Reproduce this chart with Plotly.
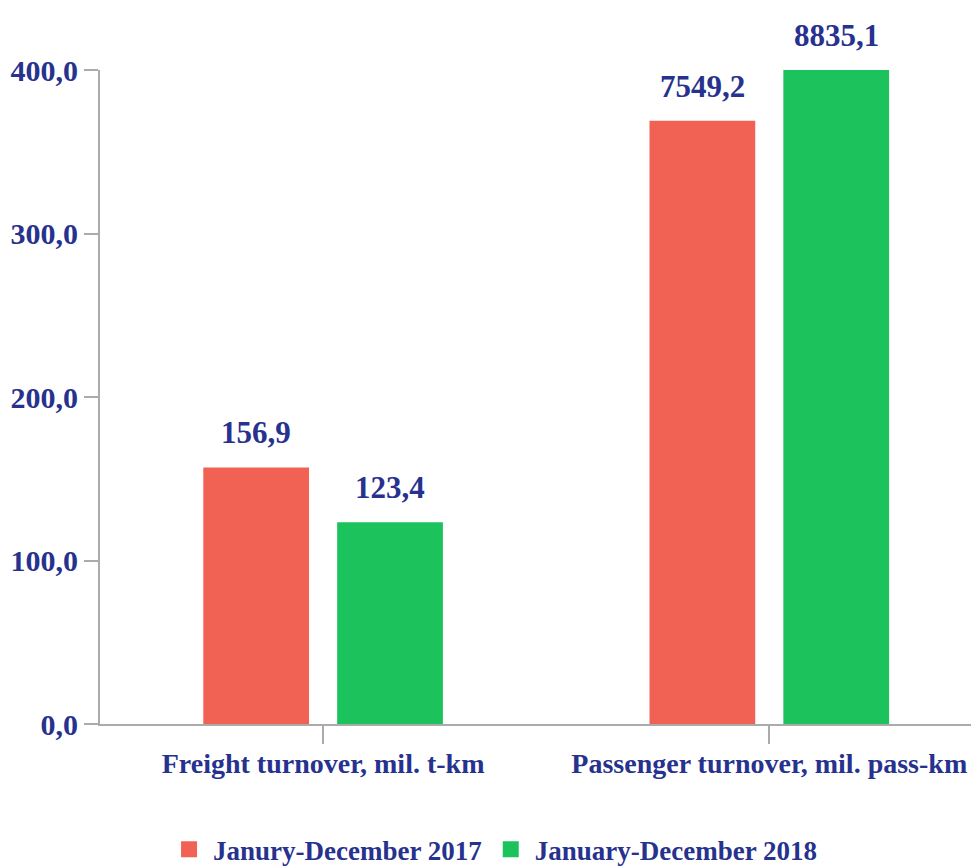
import plotly.graph_objects as go

# ---- data ----
categories = ["Freight turnover, mil. t-km", "Passenger turnover, mil. pass-km"]
series_names = ["Janury-December 2017", "January-December 2018"]
labels_2017 = [156.9, 7549.2]          # values printed above bars
labels_2018 = [123.4, 8835.1]
heights_2017 = [156.9, 369.0]          # bar heights as drawn (broken scale for passenger)
heights_2018 = [123.4, 400.0]
y_ticks = [0, 100, 200, 300, 400]

# ---- style ----
RED = "#F26254"
GREEN = "#1CC25B"
NAVY = "#27328E"
AXIS = "#ABABAB"
FONT = "Liberation Serif"
BARGAP = 0.40

def fmt(v):
    return f"{v:.1f}".replace(".", ",")

fig = go.Figure()
for name, h, color in [(series_names[0], heights_2017, RED), (series_names[1], heights_2018, GREEN)]:
    fig.add_trace(go.Bar(x=categories, y=h, marker=dict(color=color, line=dict(width=0)),
                         name=name, showlegend=False, hoverinfo="skip"))
    # legend-only marker
    fig.add_trace(go.Scatter(x=[None], y=[None], mode="markers", name=f"<b>{name}</b>",
                             marker=dict(symbol="square", size=22, color=color)))

# value labels above bars
slot = (1 - BARGAP) / 2
for j, (labs, hts) in enumerate([(labels_2017, heights_2017), (labels_2018, heights_2018)]):
    for i in range(len(categories)):
        fig.add_annotation(x=i + (j - 0.5) * slot, y=hts[i], xref="x", yref="y",
                           text=f"<b>{fmt(labs[i])}</b>", showarrow=False,
                           yanchor="bottom", yshift=15,
                           font=dict(family=FONT, size=31, color=NAVY))

fig.update_layout(
    width=979, height=866,
    margin=dict(l=92, r=8, t=62, b=150, autoexpand=False),
    paper_bgcolor="white", plot_bgcolor="white",
    barmode="group", bargap=BARGAP, bargroupgap=0.21,
    separators=", ",
    font=dict(family=FONT, color=NAVY, size=28),
    showlegend=True,
    legend=dict(orientation="h", x=0.074, xanchor="left",
                yref="container", y=0.028, yanchor="middle",
                font=dict(family=FONT, size=27, color=NAVY),
                itemwidth=38, tracegroupgap=0, itemsizing="trace"),
)
fig.update_xaxes(
    type="category", range=[-0.5, 1.47], automargin=False,
    showline=True, linecolor=AXIS, linewidth=2,
    ticks="outside", ticklen=18, tickcolor=AXIS, tickwidth=2,
    ticklabelstandoff=-5,
    tickfont=dict(family=FONT, size=28, color=NAVY),
    ticktext=[f"<b>{c}</b>" for c in categories], tickvals=categories,
    showgrid=False, zeroline=False,
)
fig.update_yaxes(
    range=[0, 400], tickvals=y_ticks, automargin=False,
    ticktext=[f"<b>{fmt(v)}</b>" for v in y_ticks],
    showline=True, linecolor=AXIS, linewidth=2,
    ticks="outside", ticklen=14, tickcolor=AXIS, tickwidth=2,
    tickfont=dict(family=FONT, size=30, color=NAVY),
    showgrid=False, zeroline=False,
)

fig.write_html("out.html")
